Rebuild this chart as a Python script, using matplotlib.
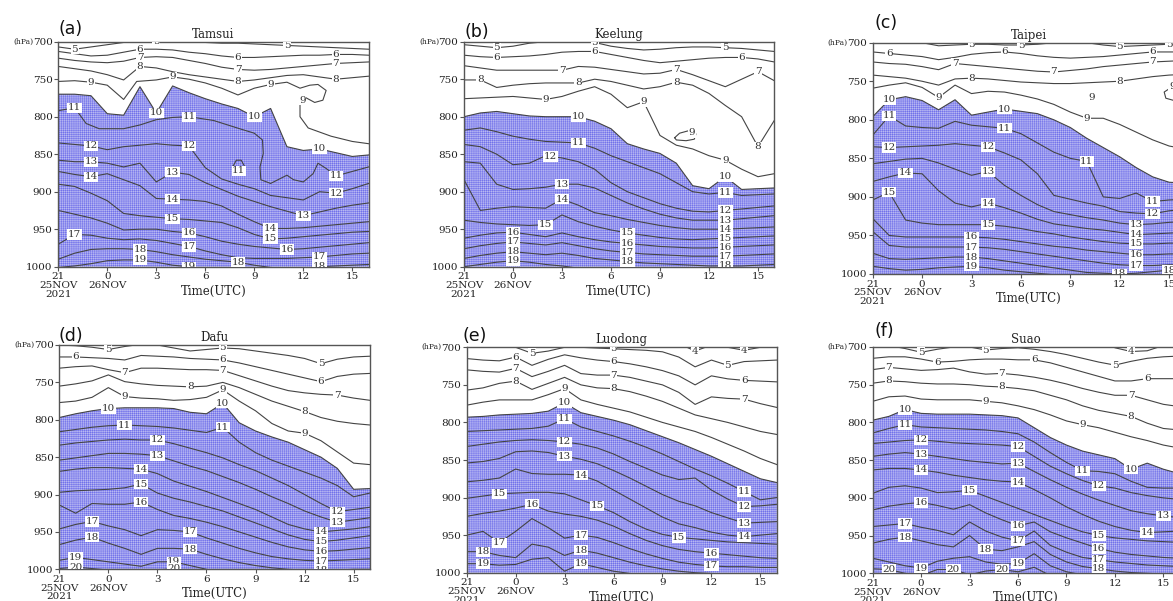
import numpy as np
import matplotlib.pyplot as plt

plt.rcParams['font.family'] = 'DejaVu Serif'
plt.rcParams['hatch.linewidth'] = 0.35

# hourly steps starting 21 UTC 25 Nov 2021
hours = np.arange(20)
tick_hours = [0, 3, 6, 9, 12, 15, 18]
tick_labels = ['21\n25NOV\n2021', '0\n26NOV', '3', '6', '9', '12', '15']
p_ticks = [700, 750, 800, 850, 900, 950, 1000]

# pressure (hPa) of each isotherm (degC) at every hour
tamsui = {
    5: [707, 710, 707, 704, 701, 700, 700, 700, 701, 701, 702, 702, 703, 704, 705, 706, 707, 708, 709, 710],
    6: [713, 716, 719, 718, 714, 710, 710, 711, 714, 716, 719, 721, 721, 720, 719, 718, 718, 717, 717, 718],
    7: [722, 725, 727, 728, 726, 721, 720, 721, 725, 729, 734, 737, 738, 737, 735, 733, 731, 729, 728, 727],
    8: [733, 736, 739, 744, 751, 733, 735, 740, 744, 747, 750, 753, 751, 748, 745, 744, 747, 750, 748, 746],
    10: [770, 770, 772, 796, 798, 760, 795, 759, 768, 776, 783, 789, 800, 789, 840, 845, 843, 848, 853, 851],
    12: [835, 837, 839, 844, 840, 838, 836, 838, 839, 868, 883, 890, 896, 905, 908, 911, 900, 902, 896, 889],
    13: [858, 860, 860, 862, 867, 862, 887, 874, 877, 888, 897, 906, 913, 920, 926, 932, 927, 922, 918, 915],
    14: [873, 877, 880, 876, 884, 892, 909, 910, 911, 913, 919, 930, 940, 949, 949, 948, 946, 944, 942, 940],
    15: [890, 893, 902, 912, 929, 932, 934, 936, 937, 939, 941, 948, 957, 963, 962, 960, 958, 956, 954, 953],
    16: [925, 930, 935, 942, 951, 950, 950, 953, 955, 960, 966, 970, 973, 975, 977, 976, 974, 972, 970, 968],
    17: [970, 957, 958, 962, 964, 963, 965, 969, 973, 979, 984, 988, 989, 989, 989, 988, 987, 985, 983, 982],
    18: [990, 982, 977, 976, 976, 977, 980, 984, 987, 990, 992, 994, 998, 1001, 1002, 1002, 1000, 999, 998, 997],
    19: [1001, 999, 996, 992, 991, 991, 994, 998, 1000, 1003, 1005, 1005, 1005, 1005, 1005, 1005, 1005, 1005, 1005, 1005],
}
tamsui_labels = {5: [1, 6, 14], 6: [5, 11, 17], 7: [5, 11, 17], 8: [5, 11, 17], 10: [6, 12, 16],
                 12: [2, 8, 17], 13: [2, 7, 15], 14: [2, 7, 13], 15: [7, 13], 16: [8, 14],
                 17: [1, 8, 16], 18: [5, 11, 16], 19: [5, 8]}
# isotherms that fold back on themselves: (degC, hours, hPa, label vertices)
tamsui_extra = [
    (9, [0, 1, 2, 3, 4, 4.8, 6, 7, 8, 9, 10, 11, 12, 13, 14, 14.8, 15.4, 15.9, 16.4, 16.2,
         15.7, 15.1, 14.8, 14.8, 15.3, 16.7, 18, 19],
     [753, 752, 754, 758, 777, 753, 751, 747, 750, 755, 762, 771, 762, 757, 754, 762, 758, 757, 765, 778,
      781, 774, 782, 800, 815, 826, 833, 836], [2, 7, 13, 21.5]),
    (11, [0, 1, 1.7, 2.5, 4, 5, 6, 7, 8, 9.5, 11.1, 12, 12.5, 12.55, 12.35, 12.4, 13, 14, 14.4, 15,
          15.6, 15.9, 16.4, 17, 18, 19],
     [792, 788, 809, 816, 816, 811, 804, 801, 800, 805, 816, 822, 831, 849, 867, 884, 889, 878, 884, 887,
      876, 862, 869, 879, 873, 867], [1, 8, 23]),
    (11, [10.7, 10.9, 11.2, 11.4, 11.2, 10.9, 10.7], [866, 858, 858, 866, 872, 872, 866], [4.5]),
]

keelung = {
    5: [704, 706, 708, 706, 702, 700, 699, 700, 701, 706, 709, 711, 710, 708, 707, 707, 708, 709, 711, 713],
    6: [718, 720, 721, 720, 719, 717, 714, 713, 713, 717, 721, 725, 728, 726, 724, 722, 721, 721, 723, 727],
    7: [732, 735, 738, 738, 738, 738, 738, 733, 734, 737, 740, 743, 742, 737, 744, 752, 760, 750, 740, 752],
    8: [751, 751, 761, 758, 756, 755, 755, 755, 750, 753, 758, 763, 760, 754, 758, 769, 785, 800, 840, 805],
    9: [776, 775, 774, 773, 775, 777, 773, 766, 760, 770, 788, 780, 825, 838, 843, 852, 858, 870, 880, 876],
    10: [800, 795, 793, 796, 799, 800, 800, 800, 806, 816, 836, 843, 849, 862, 892, 896, 880, 897, 896, 895],
    11: [818, 815, 820, 826, 830, 833, 834, 835, 842, 852, 860, 868, 876, 888, 900, 903, 901, 905, 904, 903],
    12: [837, 840, 850, 864, 862, 852, 855, 860, 870, 888, 900, 908, 916, 922, 926, 927, 925, 923, 921, 919],
    13: [860, 862, 890, 897, 896, 894, 890, 890, 895, 905, 915, 923, 930, 935, 938, 938, 938, 936, 934, 932],
    14: [884, 925, 922, 920, 921, 922, 910, 918, 928, 932, 937, 941, 945, 948, 950, 950, 950, 949, 948, 947],
    15: [938, 941, 943, 944, 945, 944, 931, 940, 946, 951, 955, 958, 961, 963, 964, 963, 962, 961, 960, 959],
    16: [962, 958, 955, 954, 957, 960, 955, 960, 964, 967, 969, 971, 973, 974, 975, 975, 974, 973, 972, 971],
    17: [976, 972, 969, 967, 969, 971, 968, 972, 976, 979, 981, 983, 984, 985, 986, 986, 986, 985, 984, 983],
    18: [989, 985, 982, 980, 982, 984, 982, 985, 989, 991, 993, 995, 996, 997, 998, 999, 999, 999, 998, 997],
    19: [1000, 997, 994, 992, 994, 997, 999, 1002, 1005, 1005, 1005, 1005, 1005, 1005, 1005, 1005, 1005, 1005, 1005, 1005],
}
keelung_labels = {5: [2, 8, 16], 6: [2, 8, 17], 7: [6, 13, 18], 8: [1, 7, 13, 18], 9: [5, 11, 16],
                  10: [7, 16], 11: [7, 16], 12: [5.3, 16], 13: [6, 16], 14: [6, 16], 15: [5, 10, 16],
                  16: [3, 10, 16], 17: [3, 10, 16], 18: [3, 10, 16], 19: [3]}
keelung_extra = [
    (9, [12.9, 13.2, 13.7, 14.2, 14.1, 13.6, 13.0, 12.9], [828, 822, 819, 823, 830, 832, 831, 828], [2.5]),
]

taipei = {
    5: [698, 698, 699, 700, 704, 703, 702, 702, 703, 703, 702, 700, 699, 700, 703, 705, 704, 703, 702, 702],
    6: [712, 714, 716, 718, 722, 719, 715, 713, 712, 714, 717, 719, 720, 719, 718, 716, 714, 712, 712, 712],
    7: [725, 727, 728, 731, 735, 727, 729, 731, 733, 735, 737, 738, 736, 734, 731, 729, 727, 725, 724, 723],
    8: [742, 744, 746, 750, 755, 747, 746, 747, 749, 751, 752, 753, 753, 752, 751, 750, 747, 744, 742, 741],
    9: [759, 755, 752, 758, 771, 755, 766, 763, 764, 768, 773, 780, 790, 798, 798, 806, 816, 826, 834, 838],
    10: [796, 774, 770, 775, 787, 774, 794, 790, 786, 789, 792, 800, 810, 824, 836, 848, 862, 874, 881, 882],
    11: [820, 795, 808, 810, 811, 802, 807, 809, 811, 818, 830, 842, 850, 854, 900, 902, 895, 906, 904, 903],
    12: [835, 836, 835, 834, 833, 831, 833, 835, 843, 852, 870, 898, 903, 908, 912, 919, 921, 922, 918, 916],
    13: [857, 854, 851, 850, 856, 864, 872, 867, 885, 898, 910, 919, 923, 927, 930, 934, 936, 935, 933, 932],
    14: [880, 874, 869, 870, 892, 908, 913, 908, 914, 921, 929, 935, 938, 941, 943, 946, 949, 948, 947, 946],
    15: [904, 894, 930, 934, 936, 936, 936, 936, 938, 941, 945, 948, 952, 955, 958, 960, 961, 961, 960, 960],
    16: [928, 950, 952, 952, 952, 952, 952, 953, 955, 958, 961, 964, 966, 969, 971, 973, 975, 975, 974, 974],
    17: [945, 963, 965, 965, 965, 965, 965, 966, 968, 971, 974, 977, 980, 983, 986, 988, 989, 989, 988, 988],
    18: [973, 980, 981, 980, 979, 978, 978, 980, 983, 986, 989, 992, 995, 998, 999, 1000, 999, 997, 995, 994],
    19: [990, 993, 995, 994, 992, 991, 990, 992, 995, 997, 999, 1001, 1003, 1004, 1004, 1004, 1004, 1004, 1004, 1004],
}
taipei_labels = {5: [6, 9, 15, 18], 6: [1, 8, 17], 7: [5, 11, 17], 8: [6, 15], 9: [4, 13], 10: [1, 8],
                 11: [1, 8, 13, 17], 12: [1, 7, 17], 13: [7, 16], 14: [2, 7, 16], 15: [1, 7, 16],
                 16: [6, 16], 17: [6, 16], 18: [6, 15, 18], 19: [6]}
taipei_extra = [
    (9, [19.2, 18.2, 17.7, 17.8, 18.3, 19.2], [756, 757, 764, 772, 775, 774], [1]),
    (9, [13.3, 13.4], [771, 772], [0]),
]

dafu = {
    5: [700, 701, 703, 706, 702, 699, 700, 704, 708, 706, 704, 705, 708, 711, 714, 718, 725, 719, 716, 715],
    6: [716, 716, 717, 718, 720, 714, 715, 716, 718, 719, 720, 724, 729, 734, 739, 744, 749, 742, 739, 738],
    7: [731, 729, 728, 733, 737, 731, 731, 732, 733, 733, 734, 741, 748, 755, 761, 764, 766, 767, 771, 774],
    8: [755, 752, 748, 740, 749, 752, 754, 755, 756, 755, 750, 757, 766, 775, 782, 789, 797, 802, 805, 807],
    9: [777, 775, 770, 757, 769, 771, 772, 774, 773, 770, 760, 775, 788, 805, 815, 818, 828, 843, 858, 860],
    10: [797, 792, 788, 785, 784, 784, 784, 785, 790, 792, 778, 804, 815, 823, 830, 840, 850, 865, 893, 892],
    11: [816, 813, 810, 808, 807, 808, 809, 811, 814, 817, 810, 830, 844, 854, 862, 870, 878, 888, 903, 898],
    12: [834, 831, 829, 827, 826, 827, 827, 832, 838, 844, 851, 860, 868, 878, 888, 900, 912, 923, 920, 917],
    13: [854, 851, 848, 845, 845, 846, 848, 855, 862, 868, 876, 884, 893, 903, 912, 922, 930, 937, 934, 931],
    14: [869, 866, 864, 864, 865, 866, 872, 882, 889, 896, 904, 912, 920, 930, 940, 946, 950, 948, 946, 943],
    15: [897, 895, 894, 893, 891, 886, 898, 905, 910, 916, 922, 930, 938, 946, 954, 960, 963, 961, 958, 955],
    16: [914, 925, 912, 913, 913, 910, 920, 928, 932, 937, 943, 950, 957, 964, 970, 974, 976, 975, 973, 971],
    17: [946, 940, 936, 942, 947, 955, 947, 948, 950, 958, 965, 972, 978, 983, 986, 988, 989, 988, 987, 986],
    18: [967, 961, 957, 965, 972, 980, 972, 972, 973, 980, 986, 991, 995, 998, 1000, 1001, 1001, 1001, 1000, 1000],
    19: [988, 984, 987, 990, 993, 996, 990, 990, 995, 1000, 1004, 1004, 1004, 1004, 1004, 1004, 1004, 1004, 1004, 1004],
    20: [999, 997, 999, 1001, 1003, 1004, 1001, 999, 1003, 1005, 1005, 1005, 1005, 1005, 1005, 1005, 1005, 1005, 1005, 1005],
}
dafu_labels = {5: [3, 10, 16], 6: [1, 10, 16], 7: [4, 10, 17], 8: [8, 15], 9: [4, 10, 15], 10: [3, 10],
               11: [4, 10], 12: [6, 17], 13: [6, 17], 14: [5, 16], 15: [5, 16], 16: [5, 16],
               17: [2, 8, 16], 18: [2, 8, 16], 19: [1, 7], 20: [1, 7]}

luodong = {
    4: [690, 690, 690, 690, 690, 690, 690, 690, 690, 690, 690, 690, 690, 695, 705, 697, 700, 704, 700, 694],
    5: [690, 692, 695, 700, 708, 705, 700, 700, 701, 702, 703, 704, 706, 713, 726, 717, 724, 719, 718, 717],
    6: [715, 717, 718, 713, 724, 716, 710, 714, 717, 719, 722, 726, 731, 738, 750, 738, 742, 744, 745, 746],
    7: [730, 732, 733, 728, 739, 732, 724, 735, 737, 737, 740, 745, 750, 760, 776, 766, 768, 769, 775, 780],
    8: [757, 754, 748, 745, 756, 748, 740, 750, 754, 755, 759, 765, 772, 781, 790, 795, 800, 806, 812, 816],
    9: [777, 773, 770, 770, 770, 763, 755, 770, 776, 781, 786, 793, 800, 806, 812, 820, 829, 838, 848, 856],
    10: [793, 792, 790, 789, 788, 785, 774, 787, 792, 797, 803, 811, 819, 827, 836, 845, 855, 865, 875, 880],
    11: [812, 811, 810, 809, 808, 805, 795, 806, 812, 818, 825, 833, 842, 852, 862, 871, 881, 892, 903, 900],
    12: [832, 829, 826, 824, 823, 824, 826, 829, 834, 842, 852, 861, 870, 876, 874, 890, 902, 912, 911, 909],
    13: [854, 852, 848, 839, 838, 840, 845, 849, 855, 864, 874, 885, 896, 905, 911, 920, 927, 934, 933, 932],
    14: [879, 877, 874, 862, 868, 869, 869, 870, 878, 890, 902, 914, 926, 935, 940, 946, 950, 952, 950, 948],
    15: [901, 898, 895, 894, 893, 893, 895, 903, 911, 920, 932, 942, 949, 953, 955, 957, 959, 960, 961, 962],
    16: [925, 921, 918, 914, 909, 918, 922, 925, 930, 938, 948, 957, 964, 969, 972, 974, 976, 978, 980, 981],
    17: [950, 945, 960, 945, 928, 940, 954, 950, 953, 960, 968, 975, 981, 986, 989, 991, 992, 992, 993, 993],
    18: [972, 972, 977, 980, 962, 966, 977, 970, 974, 980, 986, 991, 995, 998, 1000, 1001, 1002, 1002, 1002, 1002],
    19: [988, 988, 990, 989, 982, 980, 998, 988, 993, 998, 1001, 1004, 1004, 1004, 1004, 1004, 1004, 1004, 1004, 1004],
}
luodong_labels = {4: [14, 17], 5: [4, 9, 16], 6: [3, 9, 17], 7: [3, 9, 17], 8: [3, 9], 9: [6], 10: [6],
                  11: [6, 17], 12: [6, 17], 13: [6, 17], 14: [7, 17], 15: [2, 8, 13], 16: [4, 15],
                  17: [2, 7, 15], 18: [1, 7], 19: [1, 7]}

suao = {
    4: [690, 690, 690, 690, 690, 690, 690, 690, 690, 690, 690, 690, 690, 690, 690, 701, 706, 705, 698, 692],
    5: [695, 698, 702, 707, 703, 700, 700, 704, 702, 701, 703, 706, 710, 715, 720, 724, 719, 715, 713, 712],
    6: [715, 713, 713, 716, 720, 719, 717, 716, 716, 717, 717, 721, 727, 733, 739, 745, 745, 742, 742, 742],
    7: [730, 727, 729, 731, 730, 728, 733, 736, 735, 737, 740, 744, 749, 755, 760, 764, 764, 770, 776, 779],
    8: [748, 745, 746, 748, 749, 749, 750, 752, 753, 755, 758, 764, 770, 778, 784, 788, 792, 801, 808, 810],
    9: [772, 766, 765, 769, 770, 770, 770, 772, 774, 778, 783, 790, 798, 803, 807, 813, 819, 824, 830, 834],
    10: [797, 792, 783, 788, 789, 789, 789, 790, 791, 794, 807, 820, 830, 838, 843, 848, 862, 854, 862, 868],
    11: [814, 808, 803, 806, 807, 808, 809, 810, 812, 815, 826, 840, 853, 864, 865, 868, 878, 886, 887, 887],
    12: [828, 826, 824, 823, 825, 827, 828, 829, 830, 832, 845, 858, 868, 877, 884, 887, 893, 897, 900, 902],
    13: [845, 842, 840, 842, 845, 848, 851, 853, 855, 854, 865, 876, 886, 895, 903, 910, 917, 921, 924, 926],
    14: [863, 861, 861, 863, 866, 870, 873, 876, 878, 879, 889, 900, 912, 922, 931, 938, 943, 946, 945, 944],
    15: [894, 886, 884, 887, 893, 892, 890, 898, 906, 914, 922, 930, 938, 945, 950, 953, 955, 957, 958, 959],
    16: [916, 911, 908, 906, 910, 915, 909, 920, 929, 937, 932, 945, 953, 960, 967, 972, 975, 977, 979, 980],
    17: [938, 936, 934, 939, 943, 949, 932, 944, 952, 957, 944, 963, 972, 979, 982, 985, 987, 989, 990, 991],
    18: [960, 955, 952, 957, 962, 965, 950, 968, 970, 965, 958, 975, 985, 991, 994, 997, 999, 1000, 1001, 1002],
    19: [980, 985, 990, 993, 984, 980, 978, 985, 988, 987, 974, 990, 998, 1002, 1004, 1004, 1004, 1004, 1004, 1004],
    20: [994, 995, 1000, 1003, 995, 995, 1002, 997, 995, 998, 992, 1003, 1005, 1005, 1005, 1005, 1005, 1005, 1005, 1005],
}
suao_labels = {4: [16], 5: [3, 7, 15], 6: [4, 10, 17], 7: [1, 8, 16], 8: [1, 8, 16], 9: [7, 13],
               10: [2, 16], 11: [2, 13], 12: [3, 9, 14], 13: [3, 9, 18], 14: [3, 9, 17], 15: [6, 14],
               16: [3, 9, 14], 17: [2, 9, 14], 18: [2, 7, 14], 19: [3, 9], 20: [1, 5, 8]}

line_color = '#444444'
fill_color = '#b8b8f2'
dot_color = '#7070ea'
W, H = 1173, 601

# name, letter, isotherms, labels, extra curves, box in px (left, top, right, bottom), letter offset (dx, dy) px
panels = [
    ('Tamsui', '(a)', tamsui, tamsui_labels, tamsui_extra, (58.3, 41.7, 368.6, 266.7), (0, 13)),
    ('Keelung', '(b)', keelung, keelung_labels, keelung_extra, (464, 41.7, 774.3, 266.7), (0, 10)),
    ('Taipei', '(c)', taipei, taipei_labels, taipei_extra, (872.7, 42.7, 1185.6, 274), (2, 20)),
    ('Dafu', '(d)', dafu, dafu_labels, [], (59.3, 345, 370, 569.3), (-1, 9)),
    ('Luodong', '(e)', luodong, luodong_labels, [], (466.7, 347.3, 776.7, 572.7), (-4, 11)),
    ('Suao', '(f)', suao, suao_labels, [], (872.7, 347, 1179.5, 573.3), (2, 16)),
]


def put_label(ax, x, y, lev):
    ax.text(x, y, str(lev), fontsize=7.5, ha='center', va='center', color='#333333',
            bbox=dict(boxstyle='square,pad=0.06', fc='white', ec='none'), zorder=4, clip_on=True)


fig = plt.figure(figsize=(W / 100, H / 100), dpi=100, facecolor='white')

for name, tag, iso, labs, extra, box, shift in panels:
    l, t, r, b = box
    ax = fig.add_axes([l / W, 1 - b / H, (r - l) / W, (b - t) / H])

    # stippled layer below the 10 degC isotherm
    ax.fill_between(hours, iso[10], 1000, facecolor=fill_color, edgecolor=dot_color,
                    hatch='+' * 8, linewidth=0, zorder=1)

    for lev, pres in iso.items():
        ax.plot(hours, pres, color=line_color, lw=0.8, zorder=2)
        for s in labs.get(lev, []):
            put_label(ax, s, np.interp(s, hours, pres), lev)

    for lev, hh, pp, marks in extra:
        ax.plot(hh, pp, color=line_color, lw=0.8, zorder=2)
        idx = np.arange(len(hh))
        for s in marks:
            put_label(ax, np.interp(s, idx, hh), np.interp(s, idx, pp), lev)

    ax.set_xlim(0, 19)
    ax.set_ylim(1000, 700)
    ax.set_yticks(p_ticks)
    ax.set_yticklabels([str(p) for p in p_ticks])
    ax.set_xticks(tick_hours)
    ax.set_xticklabels(tick_labels)
    for lab in ax.get_xticklabels():
        lab.set_linespacing(0.95)
    ax.tick_params(direction='out', length=3, width=0.8, color='#555555', labelsize=7.5,
                   pad=1, labelcolor='#222222')
    for sp in ax.spines.values():
        sp.set_color('#555555')
        sp.set_linewidth(1.0)

    ax.set_title(name, fontsize=8.5, pad=3, color='#222222')
    ax.text(0.5, -24.5 / (b - t), 'Time(UTC)', transform=ax.transAxes, ha='center', va='center',
            fontsize=8.5, color='#222222')
    ax.annotate('(hPa)', xy=(0, 700), xycoords=('axes fraction', 'data'), xytext=(-18, 0),
                textcoords='offset points', ha='right', va='center', fontsize=5.5,
                color='#222222', annotation_clip=False)
    ax.annotate(tag, xy=(0, 1), xycoords='axes fraction',
                xytext=(shift[0] * 0.72, shift[1] * 0.72), textcoords='offset points',
                ha='left', va='center', fontsize=12.5, family='DejaVu Sans', color='#111111',
                annotation_clip=False)

fig.savefig('out.png', dpi=100)
